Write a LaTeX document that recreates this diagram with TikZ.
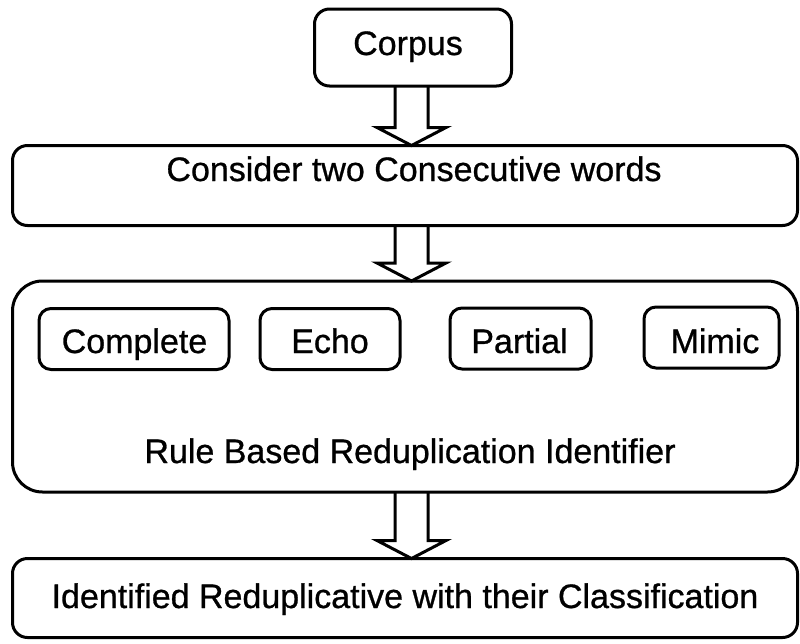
\documentclass[tikz,border=0pt]{standalone}
\usepackage{fontspec}
\setmainfont{Liberation Sans}[FakeBold=0.8]
\newfontfamily\heavysans{Liberation Sans}[FakeBold=0.8]
\usetikzlibrary{calc}
\begin{document}
\begin{tikzpicture}[x=1pt,y=-1pt,
  box/.style={draw, line width=3pt, rounded corners=15pt, inner sep=0pt, outer sep=0pt},
  small/.style={box, rounded corners=12pt, minimum height=61pt},
  txt/.style={anchor=base, inner sep=0pt, font=\heavysans\fontsize{34}{40}\selectfont},
  harrow/.style={draw, line width=3pt, line join=miter}]
\useasboundingbox (0,0) rectangle (800,643);
% boxes
\node[box, minimum width=197pt, minimum height=77pt] (corpus) at (413,47.5) {};
\node[box, minimum width=785pt, minimum height=80pt] (consider) at (405,185.5) {};
\node[box, rounded corners=30pt, minimum width=785pt, minimum height=211pt] (rule) at (405,386.5) {};
\node[box, minimum width=785pt, minimum height=79pt] (result) at (405,598) {};
\node[small, minimum width=190pt] (complete) at (134,339) {};
\node[small, minimum width=140pt] (echo) at (330,339) {};
\node[small, minimum width=141pt] (partial) at (520.5,338.5) {};
\node[small, minimum width=135pt] (mimic) at (711.5,337.5) {};
% texts
\node[txt] (tcorpus) at (408,55) {Corpus};
\node[txt] (tconsider) at (414,181) {Consider two Consecutive words};
\node[txt] (tcomplete) at (134.5,353) {Complete};
\node[txt] (techo) at (330,353) {Echo};
\node[txt] (tpartial) at (519.5,353) {Partial};
\node[txt] (tmimic) at (715,353) {Mimic};
\node[txt] (trule) at (410,463) {Rule Based Reduplication Identifier};
\node[txt] (tresult) at (405,608) {Identified Reduplicative with their Classification};
% block arrows
\coordinate (ax) at (411.5,0);
\foreach \s/\e in {corpus/consider, rule/result, consider/rule}{
  \draw[harrow] ($(\s.south -| ax)+(-16.5,0)$) -- ($(\e.north -| ax)+(-16.5,-18)$)
    -- ($(\e.north -| ax)+(-34.5,-18)$) -- (\e.north -| ax)
    -- ($(\e.north -| ax)+(34.5,-18)$) -- ($(\e.north -| ax)+(16.5,-18)$)
    -- ($(\s.south -| ax)+(16.5,0)$);
}
\end{tikzpicture}
\end{document}
